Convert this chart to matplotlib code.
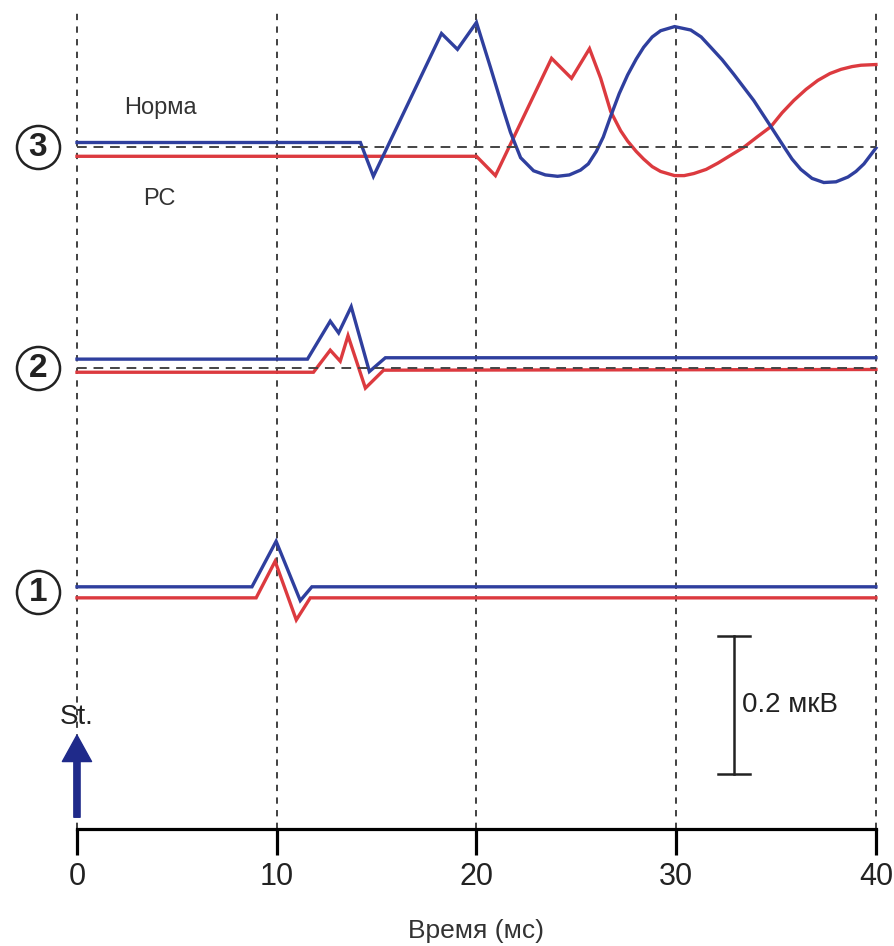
import matplotlib.pyplot as plt

plt.rcParams['font.family'] = ['Liberation Sans', 'DejaVu Sans']

# time (ms) and amplitude (uV) relative to each channel baseline
t1_norm = [0, 8.76, 9.97, 11.18, 11.76, 40]
v1_norm = [0.008, 0.008, 0.074, -0.012, 0.008, 0.008]
t1_rs = [0, 8.97, 9.92, 10.98, 11.68, 40]
v1_rs = [-0.008, -0.008, 0.045, -0.040, -0.008, -0.008]

t2_norm = [0, 11.54, 12.68, 13.10, 13.73, 14.64, 15.44, 40]
v2_norm = [0.013, 0.013, 0.068, 0.051, 0.089, -0.005, 0.015, 0.015]
t2_rs = [0, 11.84, 12.68, 13.18, 13.57, 14.44, 15.35, 40]
v2_rs = [-0.006, -0.006, 0.026, 0.010, 0.047, -0.029, -0.003, -0.002]

t3_norm = [0, 14.19, 14.84, 18.25, 19.05, 20.0, 20.70, 21.35, 21.70, 22.21,
           22.86, 23.45, 24.06, 24.65, 25.21, 25.60, 26.0, 26.35, 26.72,
           27.15, 27.57, 28.0, 28.37, 28.80, 29.22, 29.92, 30.73, 31.25,
           31.73, 32.30, 32.88, 33.88, 34.74, 35.39, 35.80, 36.24, 36.80,
           37.39, 38.00, 38.60, 39.00, 39.40, 40.0]
v3_norm = [0.007, 0.007, -0.042, 0.165, 0.142, 0.181, 0.116, 0.054, 0.022,
           -0.015, -0.034, -0.040, -0.042, -0.040, -0.033, -0.024, -0.006,
           0.015, 0.045, 0.078, 0.105, 0.128, 0.145, 0.160, 0.169, 0.175,
           0.170, 0.160, 0.145, 0.127, 0.106, 0.068, 0.030, 0.001, -0.017,
           -0.032, -0.045, -0.051, -0.050, -0.043, -0.035, -0.024, -0.001]
t3_rs = [0, 20.0, 20.95, 23.76, 24.76, 25.66, 26.22, 26.72, 27.22, 27.57,
         28.0, 28.37, 28.80, 29.22, 29.92, 30.40, 30.88, 31.50, 32.08, 32.70,
         33.38, 34.05, 34.74, 35.30, 35.89, 36.50, 37.09, 37.70, 38.25,
         38.80, 39.25, 40.0]
v3_rs = [-0.013, -0.013, -0.041, 0.129, 0.100, 0.143, 0.100, 0.052, 0.024,
         0.009, -0.006, -0.017, -0.028, -0.035, -0.041, -0.041, -0.038,
         -0.032, -0.023, -0.012, 0.0, 0.015, 0.030, 0.050, 0.068, 0.084,
         0.097, 0.107, 0.113, 0.117, 0.119, 0.120]

offsets = [0.343, 0.668, 0.988]
labels = ['1', '2', '3']
ticks = [0, 10, 20, 30, 40]
scale_uv = 0.2

blue = '#2f3f9e'
red = '#dc3a3f'

fig = plt.figure(figsize=(8.95, 9.46), dpi=100)
ax = fig.add_axes([0.086, 0.1237, 0.8927, 0.8657])
ax.set_xlim(0, 40)
ax.set_ylim(0, 1.187)

for x in ticks:
    ax.axvline(x, color='#333333', lw=1.3, ls=(0, (3.5, 3.5)), zorder=1,
               clip_on=False)

traces = [(t1_norm, v1_norm, t1_rs, v1_rs),
          (t2_norm, v2_norm, t2_rs, v2_rs),
          (t3_norm, v3_norm, t3_rs, v3_rs)]
for (tn, vn, tr, vr), off, lab in zip(traces, offsets, labels):
    ax.plot(tr, [v + off for v in vr], color=red, lw=2.4, zorder=2,
            solid_joinstyle='miter', clip_on=False)
    ax.plot(tn, [v + off for v in vn], color=blue, lw=2.4, zorder=2,
            solid_joinstyle='miter', clip_on=False)
    ax.plot([-1.95], [off], marker='o', ms=31, mfc='white', mec='#222222',
            mew=1.8, clip_on=False)
    ax.text(-1.95, off, lab, ha='center', va='center', fontsize=24,
            fontweight='bold', color='#222222', clip_on=False)

# dashed baselines for channels 2 and 3
for off in offsets[1:]:
    ax.plot([0, 40], [off, off], color='#444444', lw=1.4,
            ls=(0, (5, 3.5)), zorder=3)

ax.text(4.2, 1.045, 'Норма', ha='center', va='center', fontsize=17,
        color='#333333')
ax.text(4.1, 0.913, 'РС', ha='center', va='center', fontsize=17,
        color='#333333')

# scale bar
xs = 32.88
y0, y1 = 0.080, 0.080 + scale_uv
ax.plot([xs, xs], [y0, y1], color='#222222', lw=1.8)
ax.plot([xs - 0.8, xs + 0.8], [y0, y0], color='#222222', lw=1.8)
ax.plot([xs - 0.8, xs + 0.8], [y1, y1], color='#222222', lw=1.8)
ax.text(xs + 0.4, (y0 + y1) / 2, '0.2 мкВ', ha='left', va='center',
        fontsize=20, color='#222222')

# stimulus arrow
ax.annotate('', xy=(0, 0.136), xytext=(0, 0.017),
            arrowprops=dict(arrowstyle='simple,head_width=2.1,head_length=1.9,tail_width=0.45',
                            mutation_scale=10, color='#1f2a8a', shrinkA=0, shrinkB=0),
            annotation_clip=False)
ax.text(0, 0.162, 'St.', ha='center', va='center', fontsize=20, color='#222222')

for s in ['top', 'right', 'left']:
    ax.spines[s].set_visible(False)
ax.spines['bottom'].set_linewidth(2.3)
ax.set_yticks([])
ax.set_xticks(ticks)
ax.set_xticklabels([str(t) for t in ticks])
ax.tick_params(axis='x', length=19, width=2.3, pad=5, labelsize=22,
               labelcolor='#222222')
ax.set_xlabel('Время (мс)', fontsize=19, color='#333333', labelpad=19)

fig.savefig('out.png', dpi=100)
